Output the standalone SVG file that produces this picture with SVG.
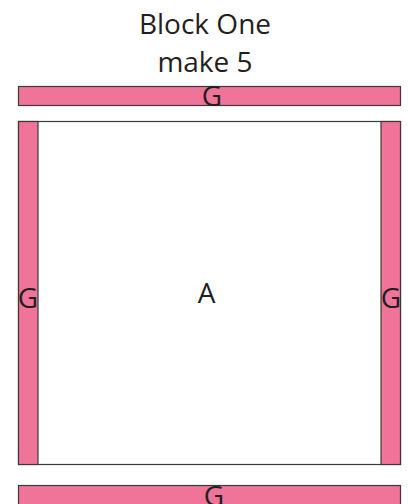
<svg xmlns="http://www.w3.org/2000/svg" width="408" height="504" viewBox="0 0 408 504">
<style>
.pink{fill:#F07399;stroke:#3a3a3a;stroke-width:1.2}
.white{fill:#ffffff;stroke:#3a3a3a;stroke-width:1.2}
.t{font-family:"Open Sans","Liberation Sans",sans-serif;font-size:28px;fill:#231f20;text-anchor:middle}
</style>
<rect width="408" height="504" fill="#ffffff"/>
<g id="title">
<text class="t" x="205" y="34">Block One</text>
<text class="t" x="205" y="72">make 5</text>
</g>
<g id="top-G">
<rect class="pink" x="18.5" y="86.5" width="382" height="19"/>
<text class="t" x="212" y="105.5">G</text>
</g>
<g id="A">
<rect class="white" x="18.5" y="121.5" width="382" height="343"/>
<text class="t" x="206.5" y="303">A</text>
</g>
<g id="left-G">
<rect class="pink" x="18.5" y="121.5" width="19.5" height="343"/>
<text class="t" x="28" y="308">G</text>
</g>
<g id="right-G">
<rect class="pink" x="381" y="121.5" width="19.5" height="343"/>
<text class="t" x="391" y="308">G</text>
</g>
<g id="bottom-G">
<rect class="pink" x="18.5" y="485.5" width="382" height="30"/>
<text class="t" x="214" y="506">G</text>
</g>
</svg>
